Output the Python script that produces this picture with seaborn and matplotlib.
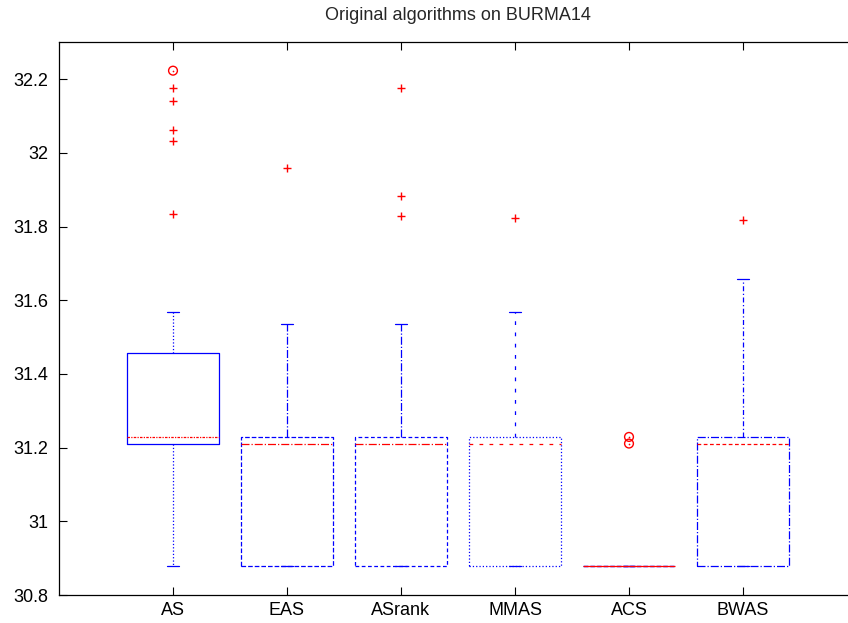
import matplotlib
matplotlib.use('Agg')
import matplotlib.pyplot as plt
import seaborn as sns
import pandas as pd

# ---- data ----
categories = ['AS', 'EAS', 'ASrank', 'MMAS', 'ACS', 'BWAS']
q1 = [31.210, 30.8785, 30.8785, 30.8785, 30.8785, 30.8785]
med = [31.229, 31.210, 31.210, 31.210, 30.8785, 31.210]
q3 = [31.457, 31.228, 31.228, 31.228, 30.8785, 31.228]
whislo = [30.8785, 30.8785, 30.8785, 30.8785, 30.8785, 30.8785]
whishi = [31.567, 31.535, 31.536, 31.568, 30.8785, 31.658]

plus_cat = ['AS', 'AS', 'AS', 'AS', 'AS', 'EAS', 'ASrank', 'ASrank', 'ASrank', 'MMAS', 'BWAS']
plus_val = [32.177, 32.141, 32.063, 32.032, 31.834, 31.958, 32.177, 31.882, 31.829, 31.823, 31.817]
circ_cat = ['AS', 'ACS', 'ACS']
circ_val = [32.223, 31.229, 31.211]

yticks = [30.8, 31.0, 31.2, 31.4, 31.6, 31.8, 32.0, 32.2]
ytick_labels = ['30.8', '31', '31.2', '31.4', '31.6', '31.8', '32', '32.2']
title = 'Original algorithms on BURMA14'

# ---- styles ----
box_ls = ['-', '--', (0, (3, 2)), ':', '--', '-.']
whisk_ls = [':', '-.', '-.', (0, (3, 6)), ':', (0, (4, 2, 1, 2))]
med_ls = [(0, (2, 1, 1, 1)), '-.', '-.', (0, (3, 5)), '-', (0, (3, 2))]

sns.set_style('ticks')
plt.rcParams['font.family'] = ['Liberation Sans', 'DejaVu Sans']

fig = plt.figure(figsize=(8.48, 6.23), dpi=100)
ax = fig.add_axes([59 / 848, 28 / 623, (857 - 59) / 848, (595 - 42.3) / 623])

for i, c in enumerate(categories):
    stats = [dict(q1=q1[i], med=med[i], q3=q3[i], whislo=whislo[i],
                  whishi=whishi[i], fliers=[], label=c)]
    ax.bxp(stats, positions=[i], widths=0.8, capwidths=0.1, showfliers=False,
           manage_ticks=False,
           boxprops=dict(color='blue', linestyle=box_ls[i], linewidth=0.9),
           whiskerprops=dict(color='blue', linestyle=whisk_ls[i], linewidth=0.9),
           capprops=dict(color='blue', linewidth=0.9),
           medianprops=dict(color='red', linestyle=med_ls[i], linewidth=0.9))

plus_df = pd.DataFrame({'x': [categories.index(c) for c in plus_cat], 'y': plus_val})
circ_df = pd.DataFrame({'x': [categories.index(c) for c in circ_cat], 'y': circ_val})

sns.scatterplot(data=plus_df, x='x', y='y', marker='+', color='red', s=40,
                linewidth=1.0, ax=ax, zorder=5)
sns.scatterplot(data=circ_df, x='x', y='y', marker='o', facecolor='none',
                edgecolor='red', s=40, linewidth=1.0, ax=ax, zorder=5)
sns.scatterplot(data=circ_df, x='x', y='y', marker='o', color='red', s=1.5,
                linewidth=0, ax=ax, zorder=6)

ax.set_xlim(-1, 6)
ax.set_ylim(30.8, 32.3)
ax.set_xticks(range(len(categories)))
ax.set_xticklabels(categories)
ax.set_yticks(yticks)
ax.set_yticklabels(ytick_labels)
ax.set_xlabel('')
ax.set_ylabel('')
ax.tick_params(axis='both', direction='in', length=6, width=0.8,
               labelsize=13, colors='black', pad=7)
ax.tick_params(axis='x', top=True, pad=5)
ax.tick_params(axis='y', right=True, pad=8)
for s in ax.spines.values():
    s.set_visible(True)
    s.set_linewidth(0.9)
    s.set_color('black')
ax.set_title(title, fontsize=13, pad=16)

fig.savefig('out.png', dpi=100)
